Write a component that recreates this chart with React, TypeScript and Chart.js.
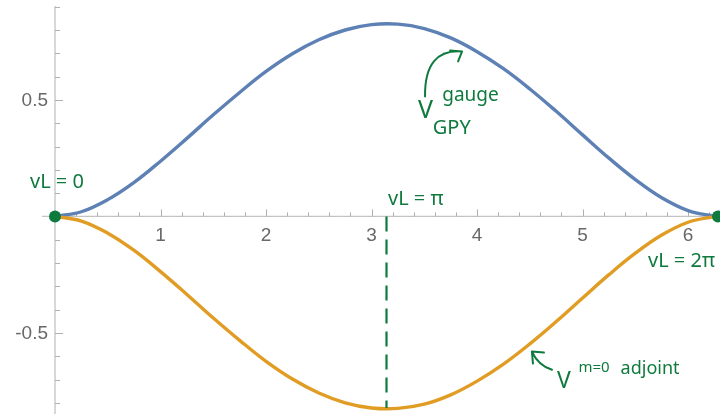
import React, { useEffect, useRef } from "react";
import { Chart, registerables } from "chart.js";

Chart.register(...registerables);

// ---- data ----
const xValues = [
  0, 0.25, 0.5, 0.75, 1, 1.25, 1.5, 1.75, 2, 2.25, 2.5, 2.75, 3, 3.25, 3.5,
  3.75, 4, 4.25, 4.5, 4.75, 5, 5.25, 5.5, 5.75, 6, 6.25, 6.2832,
];
const gaugeGPY = [
  0, 0.02, 0.072, 0.146, 0.237, 0.335, 0.436, 0.532, 0.622, 0.698, 0.758, 0.8,
  0.823, 0.825, 0.806, 0.766, 0.707, 0.634, 0.547, 0.451, 0.35, 0.25, 0.158,
  0.08, 0.025, 0.001, 0,
];
const adjointM0 = [
  0, -0.02, -0.072, -0.146, -0.237, -0.335, -0.436, -0.532, -0.622, -0.698,
  -0.758, -0.8, -0.822, -0.824, -0.806, -0.766, -0.707, -0.634, -0.547,
  -0.451, -0.35, -0.25, -0.158, -0.08, -0.025, -0.001, 0,
];
const endpointX = [0, 6.2832];
const endpointY = [0, 0];
const piLineX = [3.1416, 3.1416];
const piLineY = [0, -0.822];

const xTickLabels = [1, 2, 3, 4, 5, 6];
const yTickLabels = [-0.5, 0.5];
const xRange = [0, 6.2832];
const yRange = [-0.848, 0.903];

const BLUE = "#5e81b5";
const ORANGE = "#e19c24";
const GREEN = "#0e7a3d";
const AXIS = "#c4c4c4";
const TICK = "#b0b0b0";
const LABEL = "#686868";

const axesPlugin = {
  id: "mmaAxes",
  beforeDatasetsDraw(chart: any) {
    const { ctx, scales } = chart;
    const xs = scales.x;
    const ys = scales.y;
    const x0 = xs.getPixelForValue(0);
    const y0 = ys.getPixelForValue(0);
    ctx.save();
    // axis lines
    ctx.strokeStyle = AXIS;
    ctx.lineWidth = 1.3;
    ctx.beginPath();
    ctx.moveTo(x0 - 13, y0);
    ctx.lineTo(chart.width, y0);
    ctx.moveTo(x0, ys.getPixelForValue(yRange[1]));
    ctx.lineTo(x0, chart.height);
    ctx.stroke();
    // x ticks
    ctx.strokeStyle = TICK;
    ctx.lineWidth = 1;
    ctx.beginPath();
    for (let i = 1; i <= 31; i++) {
      const v = i * 0.2;
      if (v > xRange[1]) break;
      const major = i % 5 === 0;
      const px = Math.round(xs.getPixelForValue(v)) + 0.5;
      ctx.moveTo(px, y0);
      ctx.lineTo(px, y0 - (major ? 7 : 4));
    }
    // y ticks
    for (let i = -8; i <= 9; i++) {
      if (i === 0) continue;
      const v = i * 0.1;
      if (v > yRange[1] || v < yRange[0]) continue;
      const major = i % 5 === 0;
      const py = Math.round(ys.getPixelForValue(v)) + 0.5;
      ctx.moveTo(x0, py);
      ctx.lineTo(x0 + (major ? 8 : 5), py);
    }
    ctx.stroke();
    // labels
    ctx.fillStyle = LABEL;
    ctx.font = '19px "Liberation Sans", Arial, sans-serif';
    ctx.textAlign = "center";
    ctx.textBaseline = "middle";
    for (const v of xTickLabels) {
      ctx.fillText(String(v), xs.getPixelForValue(v), y0 + 19);
    }
    ctx.textAlign = "right";
    for (const v of yTickLabels) {
      ctx.fillText(String(v), x0 - 7, ys.getPixelForValue(v) + 1);
    }
    ctx.restore();
  },
  afterDraw(chart: any) {
    const { ctx, scales } = chart;
    const P = (x: number, y: number) => [
      scales.x.getPixelForValue(x),
      scales.y.getPixelForValue(y),
    ];
    ctx.save();
    ctx.fillStyle = GREEN;
    ctx.strokeStyle = GREEN;
    ctx.textAlign = "left";
    ctx.textBaseline = "alphabetic";
    const text = (s: string, x: number, y: number, size: number) => {
      const [px, py] = P(x, y);
      ctx.font = `${size}px "Noto Sans", sans-serif`;
      ctx.fillText(s, px, py);
    };
    text("vL = 0", -0.237, 0.122, 20);
    text("vL = π", 3.156, 0.049, 20);
    text("vL = 2π", 5.62, -0.217, 20);
    text("V", 3.44, 0.423, 25);
    text("gauge", 3.67, 0.497, 19);
    text("GPY", 3.58, 0.352, 20);
    text("V", 4.758, -0.736, 23);
    text("m=0", 4.96, -0.667, 15);
    text("adjoint", 5.36, -0.678, 18);

    // arrows
    ctx.lineWidth = 2;
    ctx.lineCap = "round";
    ctx.lineJoin = "round";
    const [a1x, a1y] = P(3.507, 0.515);
    const [c1x, c1y] = P(3.5, 0.72);
    const [e1x, e1y] = P(3.858, 0.708);
    ctx.beginPath();
    ctx.moveTo(a1x, a1y);
    ctx.quadraticCurveTo(c1x, c1y, e1x, e1y);
    ctx.moveTo(e1x - 12, e1y - 1);
    ctx.lineTo(e1x, e1y);
    ctx.lineTo(e1x - 4, e1y + 10);
    ctx.stroke();

    const [a2x, a2y] = P(4.71, -0.658);
    const [c2x, c2y] = P(4.58, -0.64);
    const [e2x, e2y] = P(4.52, -0.58);
    ctx.beginPath();
    ctx.moveTo(a2x, a2y);
    ctx.quadraticCurveTo(c2x, c2y, e2x, e2y);
    ctx.moveTo(e2x + 12, e2y + 1);
    ctx.lineTo(e2x, e2y);
    ctx.lineTo(e2x + 1, e2y + 12);
    ctx.stroke();
    ctx.restore();
  },
};

export default function App() {
  const ref = useRef<HTMLCanvasElement | null>(null);
  useEffect(() => {
    if (!ref.current) return;
    const chart = new Chart(ref.current, {
      type: "line",
      data: {
        datasets: [
          {
            label: "gauge GPY",
            data: xValues.map((x, i) => ({ x, y: gaugeGPY[i] })),
            borderColor: BLUE,
            borderWidth: 3.4,
            pointRadius: 0,
            tension: 0.4,
            fill: false,
            clip: false,
            order: 3,
          },
          {
            label: "m=0 adjoint",
            data: xValues.map((x, i) => ({ x, y: adjointM0[i] })),
            borderColor: ORANGE,
            borderWidth: 3.4,
            pointRadius: 0,
            tension: 0.4,
            fill: false,
            clip: false,
            order: 2,
          },
          {
            label: "vL = pi",
            data: piLineX.map((x, i) => ({ x, y: piLineY[i] })),
            borderColor: GREEN,
            borderWidth: 2.2,
            borderDash: [15, 8],
            pointRadius: 0,
            fill: false,
            order: 1,
          },
          {
            label: "endpoints",
            data: endpointX.map((x, i) => ({ x, y: endpointY[i] })),
            showLine: false,
            pointRadius: 6,
            pointBackgroundColor: GREEN,
            pointBorderColor: GREEN,
            pointBorderWidth: 0,
            clip: false,
            order: 0,
          },
        ],
      },
      options: {
        responsive: false,
        animation: false,
        devicePixelRatio: 1,
        layout: {
          autoPadding: false,
          padding: { left: 55, top: 6, right: 2, bottom: 0 },
        },
        plugins: {
          legend: { display: false },
          tooltip: { enabled: false },
        },
        scales: {
          x: { type: "linear", min: xRange[0], max: xRange[1], display: false },
          y: { type: "linear", min: yRange[0], max: yRange[1], display: false },
        },
      },
      plugins: [axesPlugin],
    });
    return () => chart.destroy();
  }, []);
  return (
    <div
      style={{
        position: "absolute",
        left: 0,
        top: 0,
        width: 720,
        height: 414,
        background: "#fff",
      }}
    >
      <canvas ref={ref} width={720} height={414} />
    </div>
  );
}
